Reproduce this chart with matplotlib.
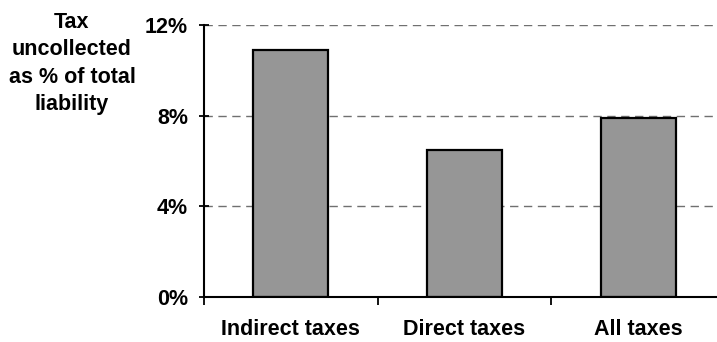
import matplotlib
matplotlib.use("Agg")
import matplotlib.pyplot as plt

categories = ["Indirect taxes", "Direct taxes", "All taxes"]
uncollected_pct = [10.9, 6.5, 7.9]
y_ticks = [0, 4, 8, 12]
y_tick_labels = ["0%", "4%", "8%", "12%"]

plt.rcParams["font.family"] = ["Liberation Sans", "DejaVu Sans"]
plt.rcParams["font.weight"] = "bold"

fig = plt.figure(figsize=(7.17, 3.42), dpi=100)
ax = fig.add_axes([204 / 717, 45 / 342, 521 / 717, 272 / 342])

x = list(range(len(categories)))
for yv in y_ticks[1:]:
    ax.axhline(yv, color="#707070", linewidth=1, linestyle=(0, (6, 4)), zorder=1)
ax.bar(x, uncollected_pct, width=0.43, color="#969696", edgecolor="black",
       linewidth=1.6, zorder=2)

ax.set_xlim(-0.5, 2.5)
ax.set_ylim(0, 12)
ax.set_yticks(y_ticks)
ax.set_yticklabels(y_tick_labels, fontsize=15.5, fontweight="bold")
ax.tick_params(axis="y", direction="inout", length=7, width=1.3, pad=8)

ax.set_xticks([-0.5, 0.5, 1.5, 2.5])
ax.set_xticklabels([])
ax.tick_params(axis="x", which="major", direction="out", length=6, width=1.3)
ax.set_xticks(x, minor=True)
ax.set_xticklabels(categories, minor=True, fontsize=15.5, fontweight="bold")
ax.tick_params(axis="x", which="minor", length=0, pad=16)

for s in ["top", "right"]:
    ax.spines[s].set_visible(False)
for s in ["left", "bottom"]:
    ax.spines[s].set_linewidth(1.5)

fig.text(72 / 717, 1 - 12 / 342, "Tax\nuncollected\nas % of total\nliability",
         ha="center", va="top", fontsize=15.5, fontweight="bold", linespacing=1.4)

fig.savefig("out.png", dpi=100)
